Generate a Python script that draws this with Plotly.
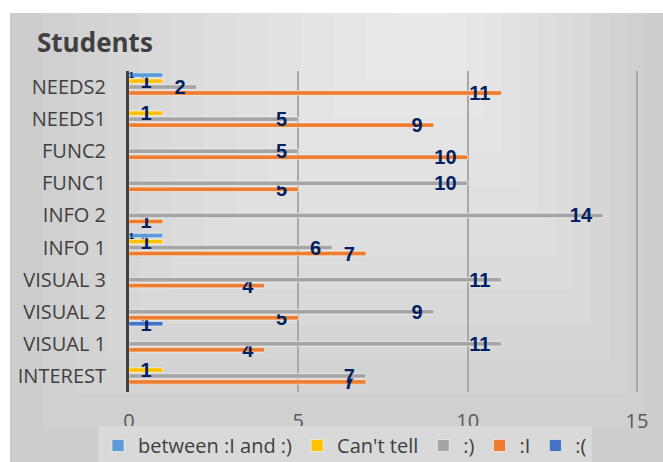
import plotly.graph_objects as go

categories = ["INTEREST", "VISUAL 1", "VISUAL 2", "VISUAL 3", "INFO 1",
              "INFO 2", "FUNC1", "FUNC2", "NEEDS1", "NEEDS2"]
sad = [None, None, 1, None, None, None, None, None, None, None]
neutral = [7, 4, 5, 4, 7, 1, 5, 10, 9, 11]
happy = [7, 11, 9, 11, 6, 14, 10, 5, 5, 2]
cant_tell = [1, None, None, None, 1, None, None, None, 1, 1]
between = [None, None, None, None, 1, None, None, None, None, 1]

series = [
    (":(", sad, "#4472C4"),
    (":I", neutral, "#ED7D31"),
    (":)", happy, "#A5A5A5"),
    ("Can't tell", cant_tell, "#FFC000"),
    ("between :I and :)", between, "#5B9BD5"),
]

FONT = "Open Sans"
fig = go.Figure()
for name, vals, color in series:
    small = name.startswith("between")
    fig.add_trace(go.Bar(
        name=name, y=categories, x=vals, orientation="h",
        marker=dict(color=color, line=dict(color="rgba(255,255,255,0.55)", width=1)),
        texttemplate="%{x}" if small else "%{x}\u00a0\u00a0",
        textposition="inside",
        insidetextanchor="start" if small else "end",
        constraintext="none", textangle=0,
        insidetextfont=dict(family="Liberation Sans", size=9 if small else 20,
                            color="#002060", weight="bold"),
        cliponaxis=False,
    ))

# background panel approximating the soft gradient
W, H = 663, 462
L, R, T, B = 129, 638, 71, 392
def px_x(p):
    return (p - L) / (R - L)
def px_y(p):
    return (B - p) / (B - T)

shapes = [dict(type="rect", xref="paper", yref="paper", layer="below",
               x0=px_x(10), x1=px_x(663), y0=px_y(462), y1=px_y(13),
               fillcolor="#cdcdcd", line=dict(width=0))]
cx, cy = 430, 13
n = 12
for i in range(1, n + 1):
    f = 1 - i / (n + 1)
    x0 = cx - (cx - 10) * f
    x1 = cx + (663 - cx) * f
    y0 = cy + (462 - cy) * f
    shapes.append(dict(type="rect", xref="paper", yref="paper", layer="below",
                       x0=px_x(x0), x1=px_x(x1), y0=px_y(y0), y1=px_y(13),
                       fillcolor="rgba(255,255,255,0.08)", line=dict(width=0)))

fig.update_layout(
    width=W, height=H,
    margin=dict(l=L, r=W - R, t=T, b=H - B, pad=0, autoexpand=False),
    paper_bgcolor="white", plot_bgcolor="rgba(0,0,0,0)",
    barmode="group", bargap=0.07, bargroupgap=0.25,
    shapes=shapes,
    title=dict(text="<b>Students</b>", x=37 / W, xanchor="left", xref="container",
               y=1 - 43 / H, yanchor="middle", yref="container",
               font=dict(family=FONT, size=26, color="#404040")),
    font=dict(family=FONT, color="#404040"),
    xaxis=dict(range=[0, 15.03], tickvals=[0, 5, 10, 15], showgrid=True,
               gridcolor="#a8a8a8", gridwidth=1.5, zeroline=False, showline=False,
               ticks="outside", ticklen=11, tickcolor="rgba(0,0,0,0)",
               tickfont=dict(family=FONT, size=20, color="#595959")),
    yaxis=dict(type="category", categoryorder="array", categoryarray=categories,
               showline=True, linecolor="#404040", linewidth=3, showgrid=False,
               ticks="outside", ticklen=16, tickcolor="rgba(0,0,0,0)",
               tickfont=dict(family=FONT, size=20, color="#404040")),
    showlegend=True,
    legend=dict(orientation="h", traceorder="reversed",
                x=px_x(345), xanchor="center", y=px_y(426), yanchor="top",
                bgcolor="#d9d9d9", font=dict(family=FONT, size=20, color="#404040"),
                itemwidth=30),
)

fig.write_html("out.html")
